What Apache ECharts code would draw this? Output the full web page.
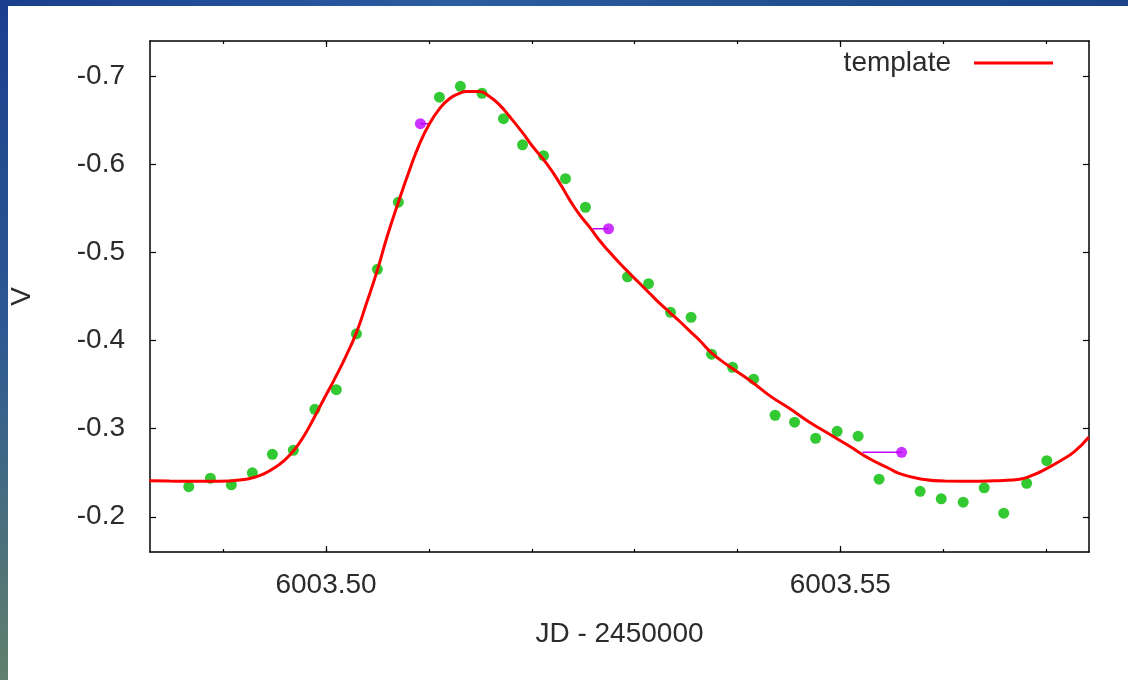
<!DOCTYPE html>
<html>
<head>
<meta charset="utf-8">
<script src="https://cdn.jsdelivr.net/npm/echarts@6/dist/echarts.min.js"></script>
<style>
  html, body { margin: 0; padding: 0; }
  #main {
    width: 1128px;
    height: 680px;
    background:
      linear-gradient(#fff, #fff) 8px 6px / 1120px 674px no-repeat,
      linear-gradient(to bottom, #1b3f8e, #2d5a92 50%, #62806c) left top / 8px 680px no-repeat,
      linear-gradient(to right, #1a3f8c, #2c5ca2 40%, #21508f 70%, #1b448c) left top / 1128px 6px no-repeat;
  }
</style>
</head>
<body>
<div id="main"></div>
<script>
// JD - 2450000 / V magnitude
const obsJD = [
  6003.48665, 6003.48875, 6003.49079, 6003.49283, 6003.49478, 6003.49682, 6003.49891,
  6003.50100, 6003.50295, 6003.50499, 6003.50703, 6003.51102, 6003.51306, 6003.51516,
  6003.51725, 6003.51910, 6003.52114, 6003.52328, 6003.52522, 6003.52931, 6003.53135,
  6003.53349, 6003.53549, 6003.53748, 6003.53952, 6003.54157, 6003.54366, 6003.54555,
  6003.54760, 6003.54969, 6003.55173, 6003.55377, 6003.55776, 6003.55981, 6003.56195,
  6003.56399, 6003.56589, 6003.56812, 6003.57007
]
const obsV = [
  -0.2341, -0.2437, -0.2363, -0.2499, -0.2709, -0.2755, -0.3220,
  -0.3442, -0.4077, -0.4809, -0.5570, -0.6762, -0.6886, -0.6807,
  -0.6518, -0.6222, -0.6098, -0.5837, -0.5513, -0.4724, -0.4645,
  -0.4321, -0.4264, -0.3845, -0.3697, -0.3561, -0.3152, -0.3073,
  -0.2891, -0.2970, -0.2914, -0.2426, -0.2289, -0.2204, -0.2165,
  -0.2329, -0.2040, -0.2380, -0.2636
]

// shifted points with their horizontal bars
const shiftJD = [6003.50917, 6003.52746, 6003.55596]
const shiftV = [-0.6461, -0.5269, -0.2732]
const shiftBarLow = [6003.50917, 6003.52591, 6003.55217]
const shiftBarHigh = [6003.51005, 6003.52746, 6003.55596]

// template curve
const tplJD = [
  6003.48281, 6003.48476, 6003.48670, 6003.48865, 6003.49059, 6003.49205, 6003.49303,
  6003.49400, 6003.49497, 6003.49594, 6003.49692, 6003.49789, 6003.49886, 6003.49983,
  6003.50081, 6003.50188, 6003.50295, 6003.50392, 6003.50499, 6003.50596, 6003.50703,
  6003.50810, 6003.50908, 6003.51005, 6003.51102, 6003.51199, 6003.51297,
  6003.51365, 6003.51491, 6003.51589, 6003.51686, 6003.51783, 6003.51910, 6003.52007,
  6003.52143, 6003.52270, 6003.52367, 6003.52464, 6003.52561, 6003.52659, 6003.52756,
  6003.52853, 6003.52950, 6003.53048, 6003.53145, 6003.53242, 6003.53340, 6003.53437,
  6003.53534, 6003.53631, 6003.53748, 6003.53923, 6003.54118, 6003.54312, 6003.54507,
  6003.54701, 6003.54896, 6003.55091, 6003.55285, 6003.55480, 6003.55577, 6003.55771,
  6003.56015, 6003.56355, 6003.56550, 6003.56744, 6003.56841, 6003.56987, 6003.57133,
  6003.57279, 6003.57415
]
const tplV = [
  -0.2409, -0.2405, -0.2403, -0.2403, -0.2407, -0.2422, -0.2448,
  -0.2490, -0.2555, -0.2641, -0.2760, -0.2925, -0.3130, -0.3345,
  -0.3560, -0.3810, -0.4090, -0.4420, -0.4800, -0.5190, -0.5570,
  -0.5930, -0.6230, -0.6460, -0.6630, -0.6745, -0.6805,
  -0.6828, -0.6828, -0.6770, -0.6675, -0.6545, -0.6360, -0.6205,
  -0.6010, -0.5790, -0.5600, -0.5430, -0.5290, -0.5135, -0.5005,
  -0.4880, -0.4764, -0.4650, -0.4537, -0.4425, -0.4321, -0.4219,
  -0.4110, -0.4003, -0.3860, -0.3705, -0.3550, -0.3375, -0.3228,
  -0.3073, -0.2936, -0.2800, -0.2658, -0.2545, -0.2490, -0.2432,
  -0.2405, -0.2403, -0.2410, -0.2426, -0.2458, -0.2535, -0.2630,
  -0.2743, -0.2902
]

const xMajor = [6003.50, 6003.55]
const xMinor = [6003.49, 6003.50, 6003.51, 6003.52, 6003.53, 6003.54, 6003.55, 6003.56, 6003.57]
const yTicks = [-0.7, -0.6, -0.5, -0.4, -0.3, -0.2]

const xMin = 6003.48288
const xMax = 6003.57418
const yMin = -0.740
const yMax = -0.160

const font = 'Liberation Sans, Arial, sans-serif'
const ink = '#2b2b2b'

function xAxisOf (pos, ticks, len, withLine) {
  return {
    type: 'value',
    position: pos,
    min: xMin,
    max: xMax,
    splitLine: { show: false },
    axisLine: { show: withLine, onZero: false, lineStyle: { color: '#000', width: 1.5 } },
    axisTick: { show: true, inside: true, length: len, customValues: ticks, lineStyle: { color: '#000', width: 1.2 } },
    axisLabel: { show: false }
  }
}

const chart = echarts.init(document.getElementById('main'))

const bottomAxis = xAxisOf('bottom', xMajor, 6, true)
bottomAxis.axisLabel = {
  show: true,
  customValues: xMajor,
  formatter: v => v.toFixed(2),
  fontFamily: font,
  fontSize: 28,
  color: ink,
  margin: 19
}
bottomAxis.name = 'JD - 2450000'
bottomAxis.nameLocation = 'middle'
bottomAxis.nameGap = 68
bottomAxis.nameTextStyle = { fontFamily: font, fontSize: 28, color: ink }

function yAxisOf (pos, withLabel) {
  const ax = {
    type: 'value',
    position: pos,
    inverse: true,
    min: yMin,
    max: yMax,
    splitLine: { show: false },
    axisLine: { show: true, onZero: false, lineStyle: { color: '#000', width: 1.5 } },
    axisTick: { show: true, inside: true, length: 6, customValues: yTicks, lineStyle: { color: '#000', width: 1.2 } },
    axisLabel: { show: false }
  }
  if (withLabel) {
    ax.axisLabel = {
      show: true,
      customValues: yTicks,
      formatter: v => v.toFixed(1),
      fontFamily: font,
      fontSize: 28,
      color: ink,
      margin: 25
    }
    ax.name = 'V'
    ax.nameLocation = 'middle'
    ax.nameGap = 114
    ax.nameRotate = 90
    ax.nameTextStyle = { fontFamily: font, fontSize: 28, color: ink }
  }
  return ax
}

chart.setOption({
  animation: false,
  grid: { left: 150, right: 39, top: 41, bottom: 128, containLabel: false },
  legend: {
    data: ['template'],
    right: 70,
    top: 44,
    align: 'right',
    icon: 'rect',
    itemWidth: 79,
    itemHeight: 3,
    textStyle: { fontFamily: font, fontSize: 28, color: ink, padding: [0, 18, 0, 0] },
    itemStyle: { color: '#ff0000' }
  },
  xAxis: [
    bottomAxis,
    xAxisOf('bottom', xMinor, 3, false),
    xAxisOf('top', xMajor, 6, true),
    xAxisOf('top', xMinor, 3, false)
  ],
  yAxis: [yAxisOf('left', true), yAxisOf('right', false)],
  series: [
    {
      name: 'obs',
      type: 'scatter',
      symbol: 'circle',
      symbolSize: 11,
      itemStyle: { color: '#00bb00' },
      data: obsJD.map((x, i) => [x, obsV[i]])
    },
    {
      name: 'bars',
      type: 'custom',
      renderItem: (params, api) => {
        const a = api.coord([api.value(0), api.value(2)])
        const b = api.coord([api.value(1), api.value(2)])
        return {
          type: 'line',
          shape: { x1: a[0], y1: a[1], x2: b[0], y2: b[1] },
          style: { stroke: '#c000ff', lineWidth: 1.5 }
        }
      },
      encode: { x: [0, 1], y: 2 },
      data: shiftJD.map((x, i) => [shiftBarLow[i], shiftBarHigh[i], shiftV[i]])
    },
    {
      name: 'shifted',
      type: 'scatter',
      symbol: 'circle',
      symbolSize: 11,
      itemStyle: { color: '#c000ff' },
      data: shiftJD.map((x, i) => [x, shiftV[i]])
    },
    {
      name: 'template',
      type: 'line',
      showSymbol: false,
      symbol: 'none',
      smooth: 0.5,
      lineStyle: { color: '#ff0000', width: 3 },
      itemStyle: { color: '#ff0000' },
      data: tplJD.map((x, i) => [x, tplV[i]])
    }
  ]
})
</script>
</body>
</html>
